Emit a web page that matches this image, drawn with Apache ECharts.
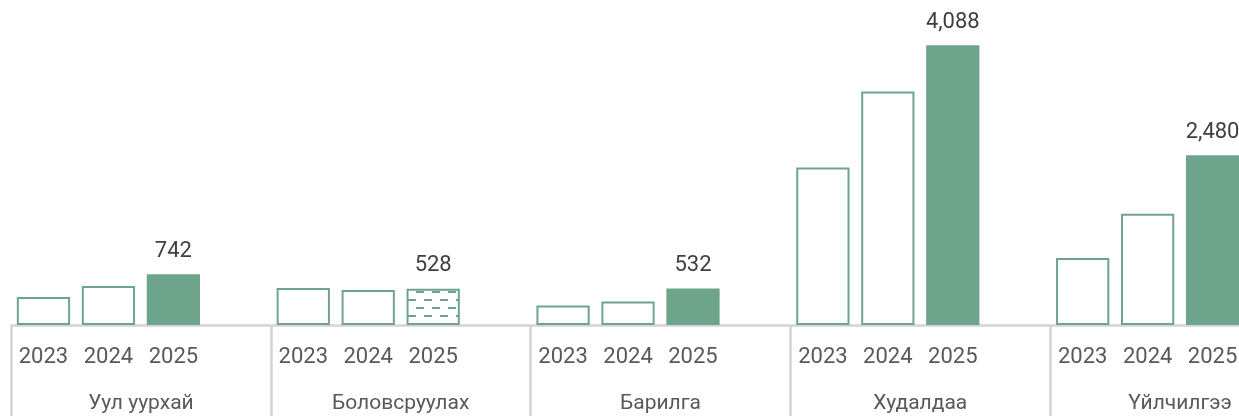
<!DOCTYPE html>
<html>
<head>
<meta charset="utf-8">
<script src="https://cdn.jsdelivr.net/npm/echarts@6/dist/echarts.min.js"></script>
<style>
  html, body { margin: 0; padding: 0; background: #fff; overflow: hidden; }
  /* the original chart runs past the right edge of the picture */
  #chart { width: 1310px; height: 416px; }
</style>
</head>
<body>
<div id="chart"></div>
<script>
var categories = ['Уул уурхай', 'Боловсруулах', 'Барилга', 'Худалдаа', 'Үйлчилгээ'];
var years = ['2023', '2024', '2025'];
var values2023 = [409, 541, 284, 2300, 980];
var values2024 = [570, 512, 343, 3410, 1625];
var values2025 = [742, 528, 532, 4088, 2480];

var green = '#6ea48b';

// dashed pattern for the projected bar
var pat = document.createElement('canvas');
pat.width = 16; pat.height = 16;
var pc = pat.getContext('2d');
pc.fillStyle = '#fff';
pc.fillRect(0, 0, 16, 16);
pc.fillStyle = green;
pc.fillRect(0, 3, 8, 2);
pc.fillRect(8, 11, 8, 2);

// 4 slots per group: 3 years + empty gap
var slots = [];
var barData = [];
categories.forEach(function (c, i) {
    var vals = [values2023[i], values2024[i], values2025[i]];
    years.forEach(function (y, j) {
        slots.push(y);
        var item = { value: vals[j] };
        if (j < 2) {
            item.itemStyle = { color: '#fff', borderColor: green, borderWidth: 2 };
        } else if (i === 1) {
            item.itemStyle = { color: { image: pat, repeat: 'repeat' }, borderColor: green, borderWidth: 2 };
            item.label = { show: true };
        } else {
            item.itemStyle = { color: green, borderWidth: 0 };
            item.label = { show: true };
        }
        barData.push(item);
    });
    slots.push('');
    barData.push('-');
});

var chart = echarts.init(document.getElementById('chart'));
var option = {
    animation: false,
    grid: { left: 11, right: 0, top: 17, bottom: 91 },
    xAxis: [{
        type: 'category',
        position: 'bottom',
        data: slots,
        axisLine: { show: false },
        axisTick: { show: false },
        axisLabel: { interval: 0, margin: 21, color: '#595959', fontFamily: 'Roboto', fontSize: 22 }
    }, {
        type: 'category',
        position: 'bottom',
        data: categories,
        axisLine: { show: true, lineStyle: { color: '#d4d4d4', width: 2.5 } },
        axisTick: { show: true, interval: 0, length: 91, lineStyle: { color: '#d4d4d4', width: 2.5 } },
        axisLabel: { interval: 0, margin: 68, color: '#595959', fontFamily: 'Roboto', fontSize: 21 }
    }],
    yAxis: {
        type: 'value',
        min: 0,
        max: 4500,
        show: false,
        splitLine: { show: false }
    },
    series: [{
        type: 'bar',
        xAxisIndex: 0,
        data: barData,
        barCategoryGap: '18%',
        label: {
            show: false,
            position: 'top',
            distance: 12,
            color: '#404040',
            fontFamily: 'Roboto',
            fontSize: 22,
            formatter: function (p) { return p.value.toLocaleString('en-US'); }
        }
    }]
};
chart.setOption(option);
</script>
</body>
</html>
